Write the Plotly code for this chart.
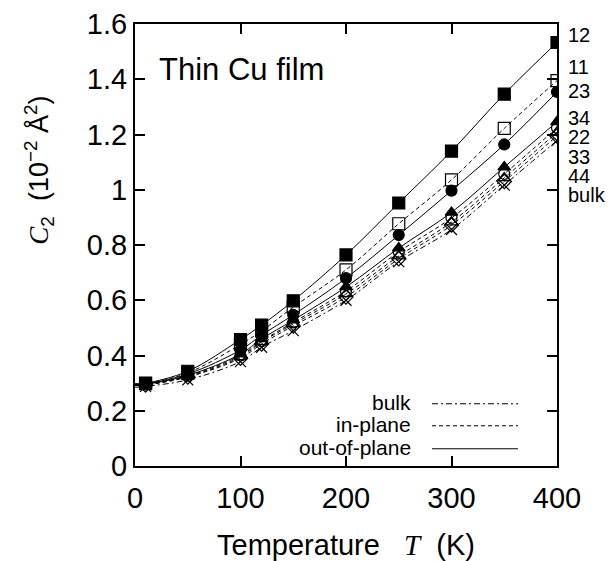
import plotly.graph_objects as go

# Temperatures (K)
T = [10, 50, 100, 120, 150, 200, 250, 300, 350, 400]
T_line = [0] + T

# C2 values (10^-2 Å^2)
c12 = [0.300, 0.343, 0.458, 0.510, 0.598, 0.764, 0.952, 1.140, 1.346, 1.533]
c11 = [0.298, 0.337, 0.440, 0.489, 0.575, 0.710, 0.877, 1.036, 1.222, 1.395]
c23 = [0.297, 0.333, 0.420, 0.474, 0.547, 0.680, 0.836, 0.997, 1.164, 1.354]
c34 = [0.296, 0.328, 0.405, 0.460, 0.528, 0.648, 0.789, 0.918, 1.082, 1.246]
c22 = [0.295, 0.326, 0.400, 0.452, 0.520, 0.633, 0.775, 0.898, 1.057, 1.224]
c33 = [0.294, 0.324, 0.395, 0.449, 0.514, 0.623, 0.760, 0.883, 1.043, 1.208]
c44 = [0.293, 0.322, 0.390, 0.442, 0.507, 0.612, 0.750, 0.872, 1.030, 1.195]
cbulk = [0.288, 0.312, 0.378, 0.430, 0.490, 0.600, 0.740, 0.856, 1.017, 1.178]

# curve values at T = 0
c0 = {"12": 0.298, "11": 0.296, "23": 0.295, "34": 0.294, "22": 0.293,
      "33": 0.292, "44": 0.291, "bulk": 0.285}

DASH = "4px,3px"
DASHDOT = "6px,3px,2px,3px"

series = [
    ("12", c12, "square", "solid"),
    ("11", c11, "square-open", DASH),
    ("23", c23, "circle", "solid"),
    ("34", c34, "triangle-up", "solid"),
    ("22", c22, "circle-open", DASH),
    ("33", c33, "triangle-up-open", DASH),
    ("44", c44, "diamond-open", DASH),
    ("bulk", cbulk, "x-thin-open", DASHDOT),
]

legend_labels = ["bulk", "in-plane", "out-of-plane"]
legend_dashes = [DASHDOT, DASH, "solid"]

fig = go.Figure()
for name, vals, sym, dash in series:
    fig.add_trace(go.Scatter(
        x=T_line, y=[c0[name]] + vals, mode="lines", line_shape="spline",
        line=dict(color="black", width=1, dash=dash), showlegend=False,
        hoverinfo="skip"))
for name, vals, sym, dash in series:
    fig.add_trace(go.Scatter(
        x=T, y=vals, mode="markers", name=name,
        marker=dict(symbol=sym, size=12 if "square" in sym else 11,
                    color="black",
                    line=dict(color="black", width=1.2)),
        showlegend=False))

FONT = "Liberation Sans, Arial, sans-serif"

axis_common = dict(showline=True, linecolor="black", linewidth=2, mirror="allticks",
                   ticks="inside", ticklen=10, tickwidth=1.5, tickcolor="black",
                   showgrid=False, zeroline=False, automargin=False,
                   tickfont=dict(family=FONT, size=29, color="black"))

fig.update_layout(
    width=609, height=561,
    margin=dict(l=135, r=52, t=24, b=95),
    plot_bgcolor="white", paper_bgcolor="white",
    xaxis=dict(range=[0, 400], tickvals=[0, 100, 200, 300, 400], **axis_common,
               ticklabelstandoff=5,
               title=dict(text="Temperature   <i><span style='font-family:Liberation Serif'>T</span></i>  (K)",
                          font=dict(family=FONT, size=29, color="black"), standoff=26)),
    yaxis=dict(range=[0, 1.6], tickvals=[0, 0.2, 0.4, 0.6, 0.8, 1, 1.2, 1.4, 1.6],
               ticktext=["0", "0.2", "0.4", "0.6", "0.8", "1", "1.2", "1.4", "1.6"],
               **axis_common),
)

# y-axis title
fig.add_annotation(
    text="<i><span style='font-family:Liberation Serif'>C</span></i><sub>2</sub>  (10<sup>−2</sup> Å<sup>2</sup>)",
    xref="paper", yref="paper", x=-0.228, y=0.67, textangle=-90,
    showarrow=False, font=dict(family=FONT, size=27, color="black"),
    xanchor="center", yanchor="middle")

# Title inside plot
fig.add_annotation(text="Thin Cu film", xref="paper", yref="paper", x=0.053, y=0.897,
                   xanchor="left", yanchor="middle", showarrow=False,
                   font=dict(family=FONT, size=31, color="black"))

# right-side labels
label_y_px = [35, 67, 91, 118, 137, 157, 176, 195]
for (name, vals, sym, dash), ypx in zip(series, label_y_px):
    fig.add_annotation(text=name, xref="paper", yref="paper",
                       x=(566 - 135) / 422, y=(466 - ypx) / 442,
                       xanchor="left", yanchor="middle", showarrow=False,
                       font=dict(family=FONT, size=20, color="black"))

# manual legend (text, then sample line to its right)
leg_y_px = [402, 424, 447]
for lab, dsh, ypx in zip(legend_labels, legend_dashes, leg_y_px):
    yp = (466 - ypx) / 442
    fig.add_annotation(text=lab, xref="paper", yref="paper", x=(413 - 135) / 422, y=yp,
                       xanchor="right", yanchor="middle", showarrow=False,
                       font=dict(family=FONT, size=21, color="black"))
    fig.add_shape(type="line", xref="paper", yref="paper",
                  x0=(432 - 135) / 422, x1=(518 - 135) / 422, y0=yp - 0.004, y1=yp - 0.004,
                  line=dict(color="black", width=1, dash=dsh))

fig.write_html("out.html", config={"displayModeBar": False},
               post_script="document.body.style.margin='0';document.body.style.padding='0';")
